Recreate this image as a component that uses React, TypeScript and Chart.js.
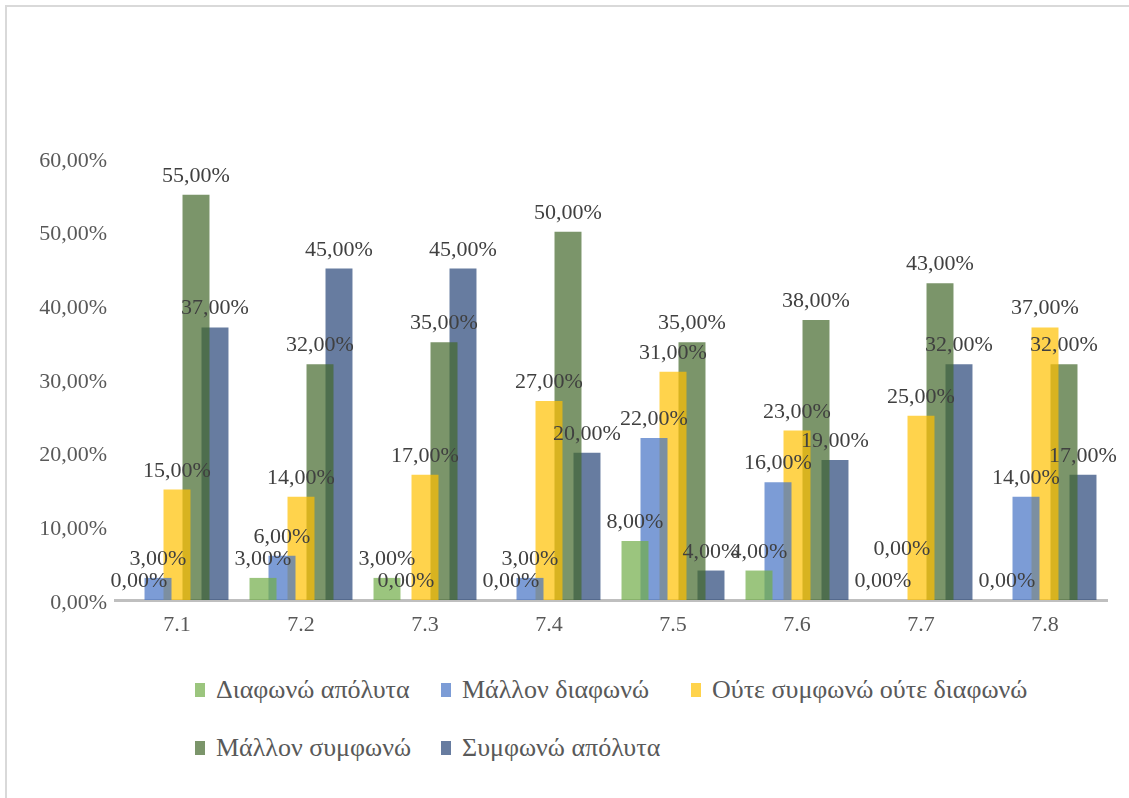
import React, { useEffect, useRef } from 'react';
import { Chart, registerables } from 'chart.js';

Chart.register(...registerables);

const categories = ['7.1', '7.2', '7.3', '7.4', '7.5', '7.6', '7.7', '7.8'];
const seriesNames = [
  'Διαφωνώ απόλυτα',
  'Μάλλον διαφωνώ',
  'Ούτε συμφωνώ ούτε διαφωνώ',
  'Μάλλον συμφωνώ',
  'Συμφωνώ απόλυτα',
];
const disagreeFully = [0, 3, 3, 0, 8, 4, 0, 0];
const ratherDisagree = [3, 6, 0, 3, 22, 16, 0, 14];
const neitherNor = [15, 14, 17, 27, 31, 23, 25, 37];
const ratherAgree = [55, 32, 35, 50, 35, 38, 43, 32];
const agreeFully = [37, 45, 45, 20, 4, 19, 32, 17];
const seriesValues = [disagreeFully, ratherDisagree, neitherNor, ratherAgree, agreeFully];
const seriesColors = [
  'rgba(112,173,71,0.7)',
  'rgba(68,114,196,0.7)',
  'rgba(255,192,0,0.7)',
  'rgba(67,104,43,0.7)',
  'rgba(38,68,120,0.7)',
];
const yMin = 0;
const yMax = 60;
const yStep = 10;

const FONT = '"Liberation Serif", "DejaVu Serif", serif';
// manual label nudge (the original chart lifted one overlapping zero label)
const labelNudges = [{ dataset: 1, index: 6, dy: -32 }];

const fmt = (v: number) => v.toFixed(2).replace('.', ',') + '%';

const dataLabelPlugin = {
  id: 'dataLabels',
  afterDatasetsDraw(chart: any) {
    const ctx = chart.ctx;
    ctx.save();
    ctx.font = `22px ${FONT}`;
    ctx.fillStyle = '#404040';
    ctx.textAlign = 'center';
    ctx.textBaseline = 'alphabetic';
    chart.data.datasets.forEach((ds: any, di: number) => {
      const meta = chart.getDatasetMeta(di);
      meta.data.forEach((el: any, i: number) => {
        const nudge = labelNudges.find((n) => n.dataset === di && n.index === i);
        const dy = nudge ? nudge.dy : 0;
        ctx.fillText(fmt(ds.data[i]), el.x, el.y - 13 + dy);
      });
    });
    ctx.restore();
  },
};

export default function App() {
  const canvasRef = useRef<HTMLCanvasElement>(null);

  useEffect(() => {
    const canvas = canvasRef.current;
    if (!canvas) return;
    const chart = new Chart(canvas, {
      type: 'bar',
      data: {
        labels: categories,
        datasets: seriesValues.map((vals, i) => ({
          label: seriesNames[i],
          data: vals,
          backgroundColor: seriesColors[i],
          borderWidth: 0,
          categoryPercentage: 0.766,
          barPercentage: 1.42,
        })),
      },
      options: {
        responsive: false,
        animation: false,
        events: [],
        layout: { padding: { left: 0, right: 22, top: 158, bottom: 10 } },
        plugins: {
          legend: { display: false },
          tooltip: { enabled: false },
          title: { display: false },
        },
        scales: {
          x: {
            grid: { display: false, drawTicks: false },
            border: { display: true, color: '#BFBFBF', width: 3 },
            ticks: {
              color: '#595959',
              font: { family: FONT, size: 22 },
              padding: 12,
            },
            afterFit: (scale: any) => {
              scale.height = 50;
            },
          },
          y: {
            min: yMin,
            max: yMax,
            grid: { display: false, drawTicks: false },
            border: { display: false },
            ticks: {
              stepSize: yStep,
              color: '#595959',
              font: { family: FONT, size: 22 },
              padding: 8,
              labelOffset: 3,
              callback: (v: any) => fmt(Number(v)),
            },
            afterFit: (scale: any) => {
              scale.width = 115;
            },
          },
        },
      },
      plugins: [dataLabelPlugin],
    });
    return () => chart.destroy();
  }, []);

  return (
    <div
      style={{
        position: 'fixed',
        left: 0,
        top: 0,
        width: 1129,
        height: 798,
        overflow: 'hidden',
        background: '#ffffff',
      }}
    >
      <div
        style={{
          position: 'absolute',
          left: 5,
          top: 5,
          width: 1300,
          height: 1000,
          borderLeft: '2px solid #D9D9D9',
          borderTop: '2px solid #D9D9D9',
        }}
      />
      <canvas
        ref={canvasRef}
        width={1129}
        height={660}
        style={{ position: 'absolute', left: 0, top: 0, width: 1129, height: 660 }}
      />
      <div
        style={{
          position: 'absolute',
          left: 195,
          top: 661,
          display: 'grid',
          gridTemplateColumns: '246px 250px auto',
          gridAutoRows: '58px',
          fontFamily: FONT,
          fontSize: 26,
          color: '#595959',
          whiteSpace: 'nowrap',
        }}
      >
        {seriesNames.map((name, i) => (
          <div key={name} style={{ display: 'flex', alignItems: 'center' }}>
            <span
              style={{
                display: 'inline-block',
                width: 10,
                height: 14,
                background: seriesColors[i],
                marginRight: 11,
              }}
            />
            <span>{name}</span>
          </div>
        ))}
      </div>
    </div>
  );
}
